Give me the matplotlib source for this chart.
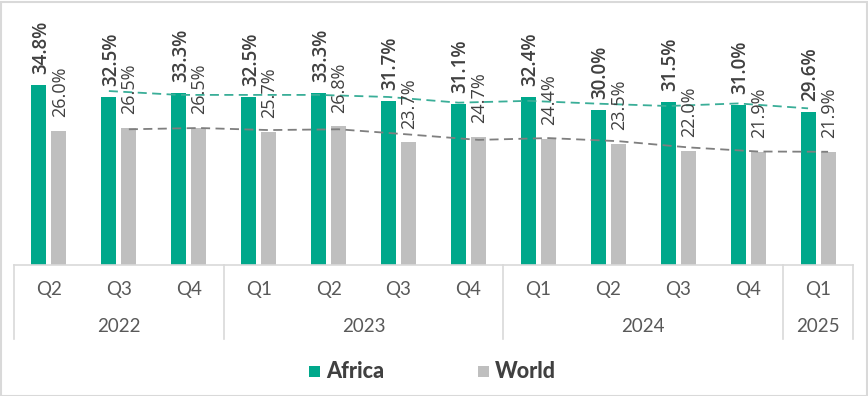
import matplotlib
matplotlib.use("Agg")
import matplotlib.pyplot as plt
import matplotlib.transforms as mtransforms
from matplotlib.patches import Rectangle
import pandas as pd
import numpy as np

quarters = ["Q2", "Q3", "Q4", "Q1", "Q2", "Q3", "Q4", "Q1", "Q2", "Q3", "Q4", "Q1"]
years = ["2022", "2023", "2024", "2025"]
year_counts = [3, 4, 4, 1]
africa = [34.8, 32.5, 33.3, 32.5, 33.3, 31.7, 31.1, 32.4, 30.0, 31.5, 31.0, 29.6]
world = [26.0, 26.5, 26.5, 25.7, 26.8, 23.7, 24.7, 24.4, 23.5, 22.0, 21.9, 21.9]

C_AFR = "#00A88B"
C_WLD = "#BFBFBF"
C_AFR_TR = "#3AAE98"
C_WLD_TR = "#7F7F7F"
TXT = "#404040"
TICK = "#595959"

W, H = 868, 396
fig = plt.figure(figsize=(W / 100, H / 100), dpi=100)
fig.patch.set_facecolor("white")

base_py = 265
top_py = 6.5
ax = fig.add_axes([14 / W, 1 - base_py / H, (853 - 14) / W, (base_py - top_py) / H])
ax.set_ylim(0, 50)
ax.set_xlim(-0.5, len(quarters) - 0.5)

x = np.arange(len(quarters))
bw = 0.215
off = 0.143
ax.bar(x - off, africa, width=bw, color=C_AFR, zorder=2)
ax.bar(x + off, world, width=bw, color=C_WLD, zorder=2)

# 2-period moving average trendlines
afr_ma = pd.Series(africa).rolling(2).mean()
wld_ma = pd.Series(world).rolling(2).mean()
ax.plot(x[1:] - off, afr_ma[1:], color=C_AFR_TR, lw=1.3, ls=(0, (5, 3)), zorder=3)
ax.plot(x[1:] + off, wld_ma[1:], color=C_WLD_TR, lw=1.3, ls=(0, (5, 3)), zorder=3)

# data labels
for i in range(len(quarters)):
    ax.annotate(f"{africa[i]:.1f}%", (x[i] - off, africa[i]), xytext=(1.5, 8),
                textcoords="offset points", rotation=90, ha="center", va="bottom",
                fontsize=13.5, fontweight="semibold", color=TXT, family="Open Sans", zorder=4)
    ax.annotate(f"{world[i]:.1f}%", (x[i] + off, world[i]), xytext=(0.5, 10),
                textcoords="offset points", rotation=90, ha="center", va="bottom",
                fontsize=13, color=TXT, family="Open Sans", zorder=4)

for s in ["top", "right", "left"]:
    ax.spines[s].set_visible(False)
ax.spines["bottom"].set_color("#D9D9D9")
ax.spines["bottom"].set_linewidth(1.2)
ax.set_yticks([])
ax.set_xticks([])

bt = mtransforms.blended_transform_factory(ax.transData, fig.transFigure)

def fy(py):
    return 1 - py / H

# quarter labels
for i, q in enumerate(quarters):
    ax.text(x[i], fy(290), q, transform=bt, ha="center", va="center",
            fontsize=13.5, color=TICK, family="Lato")

# year labels and separators
bounds = [-0.5]
for c in year_counts:
    bounds.append(bounds[-1] + c)
for j, yr in enumerate(years):
    mid = (bounds[j] + bounds[j + 1]) / 2
    ax.text(mid, fy(327), yr, transform=bt, ha="center", va="center",
            fontsize=13.5, color=TICK, family="Lato")
for b in bounds:
    ax.plot([b, b], [fy(base_py), fy(339)], transform=bt, color="#D9D9D9",
            lw=1.2, clip_on=False)

# legend
leg_y = fy(371)
for sx, tx, col, lab in [(309, 326, C_AFR, "Africa"), (478, 495, C_WLD, "World")]:
    fig.patches.append(Rectangle((sx / W, leg_y - 5.5 / H), 11 / W, 11 / H,
                                 transform=fig.transFigure, facecolor=col,
                                 edgecolor="none"))
    fig.text(tx / W, leg_y, lab, ha="left", va="center", fontsize=15.5,
             fontweight=900, color=TXT, family="Lato")

# outer border
fig.patches.append(Rectangle((0.5 / W, 0.5 / H), (W - 2) / W, (H - 2) / H,
                             transform=fig.transFigure, facecolor="none",
                             edgecolor="#D9D9D9", lw=1.5))

fig.savefig("out.png", dpi=100)
